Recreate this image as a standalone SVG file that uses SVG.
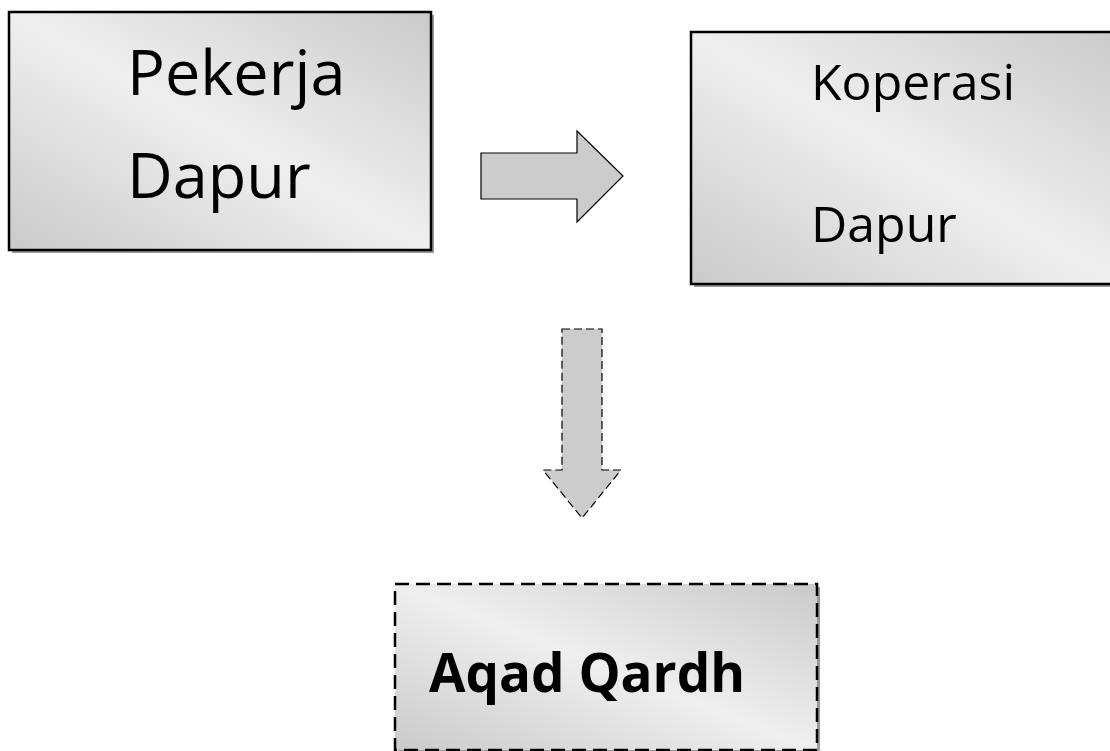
<svg xmlns="http://www.w3.org/2000/svg" width="1110" height="751" viewBox="0 0 1110 751">
<defs>
<linearGradient id="g" x1="0" y1="1" x2="1" y2="0">
<stop offset="0" stop-color="#cacaca"/>
<stop offset="0.5" stop-color="#efefef"/>
<stop offset="1" stop-color="#cacaca"/>
</linearGradient>
</defs>
<style>
.box{fill:url(#g);stroke:#000;stroke-width:2.5}
.shadow{fill:#9a9a9a}
.dash{stroke-dasharray:14 7}
.arrow{fill:#cccccc;stroke:#000;stroke-width:1.2}
.t{font-family:"Open Sans","Liberation Sans",sans-serif;fill:#000}
</style>
<g id="pekerja-dapur">
<rect class="shadow" x="12" y="15" width="422" height="238"/>
<rect class="box" x="9" y="12" width="422" height="238"/>
<text class="t" x="127" y="95" font-size="63">Pekerja</text>
<text class="t" x="127" y="198" font-size="63">Dapur</text>
</g>
<g id="koperasi-dapur">
<rect class="shadow" x="694" y="35" width="430" height="252"/>
<rect class="box" x="691" y="32" width="430" height="252"/>
<text class="t" x="811" y="100" font-size="50">Koperasi</text>
<text class="t" x="811" y="242" font-size="50">Dapur</text>
</g>
<g id="aqad-qardh">
<rect class="shadow" x="398" y="587" width="422" height="166"/>
<rect class="box dash" x="395" y="584" width="422" height="166"/>
<text class="t" x="429" y="692" font-size="53" font-weight="bold">Aqad Qardh</text>
</g>
<g id="connectors">
<polygon class="arrow" points="481,153 577,153 577,131 623,176 577,222 577,199 481,199"/>
<polygon class="arrow dash" style="stroke-dasharray:8 4" points="562,329 602,329 602,470 621,470 582,518 543,470 562,470"/>
</g>
</svg>
